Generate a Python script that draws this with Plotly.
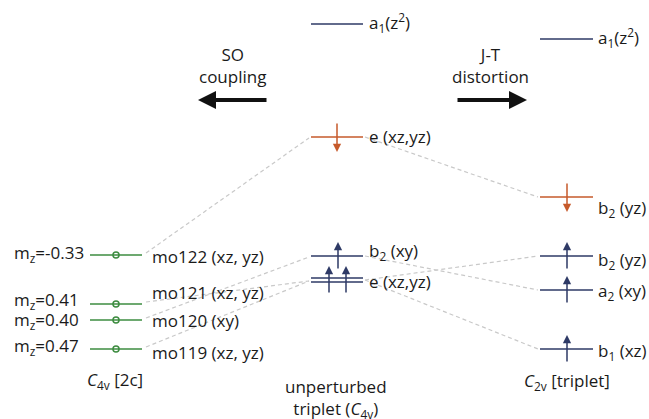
import plotly.graph_objects as go

NAVY = "#2e3a66"
GREEN = "#3d8c40"
ORANGE = "#c65a2b"
GREY = "#c9c9c9"
FONT = "Open Sans"
FS = 17

# column extents (x) of the three level groups
left_col = (90, 142)
mid_col = (311, 363)
right_col = (540, 593)

# energies (screen units, larger = lower)
left_levels = [255, 304, 320, 349]
left_labels = ["mo122 (xz, yz)", "mo121 (xz, yz)", "mo120 (xy)", "mo119 (xz, yz)"]
left_label_y = [256, 292, 320, 352]
mz_labels = ["m<sub>z</sub>=-0.33", "m<sub>z</sub>=0.41", "m<sub>z</sub>=0.40", "m<sub>z</sub>=0.47"]
mz_label_y = [253, 300, 320, 346]

mid_levels = [24, 137, 256, 278, 282]
mid_colors = [NAVY, ORANGE, NAVY, NAVY, NAVY]
mid_labels = ["a<sub>1</sub>(z<sup>2</sup>)", "e (xz,yz)", "b<sub>2</sub> (xy)", "e (xz,yz)"]
mid_label_y = [22, 136, 251, 281]

right_levels = [39, 197, 256, 290, 349]
right_colors = [NAVY, ORANGE, NAVY, NAVY, NAVY]
right_labels = ["a<sub>1</sub>(z<sup>2</sup>)", "b<sub>2</sub> (yz)", "b<sub>2</sub> (yz)",
                "a<sub>2</sub> (xy)", "b<sub>1</sub> (xz)"]
right_label_y = [37, 208, 260, 291, 351]

# correlation lines: (from level, to level)
left_links = [(255, 137), (304, 280), (320, 256), (349, 280)]
right_links = [(137, 197), (256, 290), (280, 256), (280, 349)]

# electrons: (x, level, spin)
electrons = [
    (337, 137, "down"), (338, 256, "up"), (329, 280, "up"), (346, 280, "up"),
    (567, 197, "down"), (567, 256, "up"), (567, 290, "up"), (567, 349, "up"),
]

fig = go.Figure()

# dashed correlation lines
for a, b in left_links:
    fig.add_trace(go.Scatter(x=[left_col[1] + 4, mid_col[0] - 2], y=[a - 2, b + 1], mode="lines",
                             line={"color": GREY, "width": 1.2, "dash": "4px,3px"}, hoverinfo="skip"))
for a, b in right_links:
    fig.add_trace(go.Scatter(x=[mid_col[1] + 2, right_col[0] - 2], y=[a, b], mode="lines",
                             line={"color": GREY, "width": 1.2, "dash": "4px,3px"}, hoverinfo="skip"))

# level lines
for y in left_levels:
    fig.add_trace(go.Scatter(x=list(left_col), y=[y, y], mode="lines",
                             line={"color": GREEN, "width": 1.5}, hoverinfo="skip"))
fig.add_trace(go.Scatter(x=[116] * len(left_levels), y=left_levels, mode="markers",
                         marker={"symbol": "circle-open", "size": 6, "color": GREEN,
                                 "line": {"width": 1.5, "color": GREEN}}, hoverinfo="skip"))
for y, c in zip(mid_levels, mid_colors):
    fig.add_trace(go.Scatter(x=list(mid_col), y=[y, y], mode="lines",
                             line={"color": c, "width": 1.5}, hoverinfo="skip"))
for y, c in zip(right_levels, right_colors):
    fig.add_trace(go.Scatter(x=list(right_col), y=[y, y], mode="lines",
                             line={"color": c, "width": 1.5}, hoverinfo="skip"))

ann = []


def text(x, y, s, anchor="left", size=FS, color="#1a1a1a"):
    ann.append(dict(x=x, y=y, text=s, showarrow=False, xanchor=anchor, yanchor="middle",
                    font={"family": FONT, "size": size, "color": color}))


for s, y in zip(mz_labels, mz_label_y):
    text(12, y, s)
for s, y in zip(left_labels, left_label_y):
    text(150, y, s)
for s, y in zip(mid_labels, mid_label_y):
    text(367, y, s)
for s, y in zip(right_labels, right_label_y):
    text(596, y, s)

text(232, 65, "SO<br>coupling", "center")
text(490, 65, "J-T<br>distortion", "center")
text(115, 380, "<i>C</i><sub>4v</sub> [2c]", "center")
text(336, 398, "unperturbed<br>triplet (<i>C</i><sub>4v</sub>)", "center")
text(567, 381, "<i>C</i><sub>2v</sub> [triplet]", "center")

# process arrows
ann.append(dict(x=198, y=100, ax=268, ay=100, axref="x", ayref="y", xref="x", yref="y",
                showarrow=True, arrowhead=2, arrowsize=0.9, arrowwidth=4, arrowcolor="#111111", text=""))
ann.append(dict(x=527, y=100, ax=456, ay=100, axref="x", ayref="y", xref="x", yref="y",
                showarrow=True, arrowhead=2, arrowsize=0.9, arrowwidth=4, arrowcolor="#111111", text=""))

# electron spin arrows
for x, y, spin in electrons:
    color = ORANGE if spin == "down" else NAVY
    if spin == "up":
        tip, tail = y - 14, y + 14
    else:
        tip, tail = y + 15, y - 15
    ann.append(dict(x=x, y=tip, ax=x, ay=tail, axref="x", ayref="y", xref="x", yref="y",
                    showarrow=True, arrowhead=2, arrowsize=1.1, arrowwidth=1.5, arrowcolor=color, text=""))

fig.update_layout(
    width=649,
    height=419,
    margin={"l": 0, "r": 0, "t": 0, "b": 0},
    paper_bgcolor="white",
    plot_bgcolor="white",
    showlegend=False,
    annotations=ann,
    xaxis={"range": [0, 649], "visible": False, "fixedrange": True},
    yaxis={"range": [419, 0], "visible": False, "fixedrange": True},
)

fig.write_html("out.html", config={"displayModeBar": False},
               post_script="document.body.style.margin='0';document.body.style.overflow='hidden';")
